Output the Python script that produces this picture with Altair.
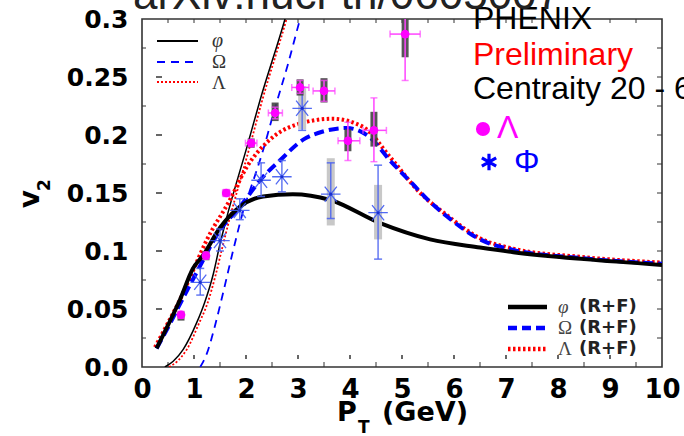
import altair as alt
import pandas as pd

# ---------------- data ----------------
# thin curves (phi, Omega, Lambda)
phi_thin_pt = [0.44, 0.6, 0.79, 1.05, 1.2, 1.37, 1.5, 1.63, 2.02, 2.27, 2.75, 2.85]
phi_thin_v2 = [0.0, 0.005, 0.015, 0.038, 0.055, 0.08, 0.106, 0.129, 0.19, 0.23, 0.30, 0.316]
lam_thin_pt = [0.52, 0.68, 0.86, 1.1, 1.26, 1.42, 1.55, 1.68, 2.06, 2.3, 2.78, 2.88]
lam_thin_v2 = [0.0, 0.005, 0.015, 0.038, 0.055, 0.08, 0.104, 0.127, 0.188, 0.228, 0.30, 0.316]
omg_thin_pt = [1.12, 1.25, 1.4, 1.56, 1.75, 1.95, 2.15, 2.33, 2.53, 2.8, 3.04, 3.14]
omg_thin_v2 = [0.0, 0.012, 0.035, 0.064, 0.1, 0.135, 0.162, 0.187, 0.219, 0.26, 0.30, 0.316]

# thick curves (R+F)
phi_rf_pt = [0.28, 0.5, 0.73, 0.98, 1.17, 1.5, 1.88, 2.33, 2.9, 3.62, 4.58, 5.54, 6.5, 7.14, 8.5, 10.0]
phi_rf_v2 = [0.016, 0.036, 0.058, 0.085, 0.096, 0.12, 0.138, 0.147, 0.149, 0.144, 0.124, 0.11, 0.103, 0.099, 0.093, 0.088]
omg_rf_pt = [0.28, 0.5, 0.75, 1.08, 1.5, 1.88, 2.33, 2.65, 3.1, 3.48, 3.94, 4.38, 4.77, 5.2, 5.5, 5.86, 6.5, 7.14, 8.42, 10.0]
omg_rf_v2 = [0.016, 0.034, 0.056, 0.084, 0.118, 0.138, 0.164, 0.178, 0.196, 0.203, 0.206, 0.198, 0.178, 0.158, 0.144, 0.13, 0.11, 0.101, 0.094, 0.089]
lam_rf_pt = [0.25, 0.5, 0.73, 1.0, 1.24, 1.69, 2.01, 2.46, 2.97, 3.67, 4.25, 4.77, 5.35, 5.86, 6.5, 7.14, 8.42, 10.0]
lam_rf_v2 = [0.017, 0.038, 0.058, 0.085, 0.109, 0.144, 0.172, 0.196, 0.209, 0.214, 0.207, 0.181, 0.15, 0.131, 0.111, 0.102, 0.095, 0.09]

# Lambda data (PHENIX preliminary)
lam_pt = [0.75, 1.23, 1.62, 2.10, 2.56, 3.04, 3.50, 3.96, 4.46, 5.06]
lam_v2 = [0.045, 0.096, 0.150, 0.193, 0.219, 0.241, 0.238, 0.195, 0.204, 0.287]
lam_elo = [0.042, 0.093, 0.147, 0.190, 0.214, 0.236, 0.229, 0.178, 0.177, 0.247]
lam_ehi = [0.048, 0.099, 0.153, 0.196, 0.224, 0.247, 0.247, 0.211, 0.232, 0.330]
lam_slo = [0.040, 0.092, 0.147, 0.189, 0.212, 0.234, 0.228, 0.186, 0.190, 0.267]
lam_shi = [0.048, 0.100, 0.153, 0.197, 0.228, 0.248, 0.249, 0.205, 0.220, 0.310]
lam_xlo = [0.75, 1.23, 1.55, 1.99, 2.43, 2.88, 3.29, 3.77, 4.25, 4.77]
lam_xhi = [0.75, 1.23, 1.69, 2.21, 2.70, 3.21, 3.71, 4.19, 4.70, 5.35]

# phi data
phi_pt = [1.12, 1.50, 1.88, 2.29, 2.69, 3.08, 3.63, 4.54]
phi_v2 = [0.073, 0.109, 0.135, 0.161, 0.164, 0.223, 0.149, 0.133]
phi_elo = [0.062, 0.100, 0.127, 0.147, 0.151, 0.204, 0.128, 0.093]
phi_ehi = [0.085, 0.119, 0.145, 0.176, 0.178, 0.241, 0.176, 0.174]
phi_sys_pt = [3.08, 3.63, 4.54]
phi_slo = [0.205, 0.122, 0.110]
phi_shi = [0.240, 0.180, 0.157]

# axes
x_ticks = [0, 1, 2, 3, 4, 5, 6, 7, 8, 9, 10]
x_half = [0.5, 1.5, 2.5, 3.5, 4.5, 5.5, 6.5, 7.5, 8.5, 9.5]
x_all_half = [0.5, 1, 1.5, 2, 2.5, 3, 3.5, 4, 4.5, 5, 5.5, 6, 6.5, 7, 7.5, 8, 8.5, 9, 9.5]
y_ticks = [0.0, 0.05, 0.1, 0.15, 0.2, 0.25, 0.3]
y_major_inner = [0.05, 0.1, 0.15, 0.2, 0.25]
y_odd = [0.025, 0.075, 0.125, 0.175, 0.225, 0.275]
y_all = [0.025, 0.05, 0.075, 0.1, 0.125, 0.15, 0.175, 0.2, 0.225, 0.25, 0.275]

# ---------------- chart ----------------
W, H = 520, 348
xs = alt.Scale(domain=[0, 10], nice=False, zero=False)
ys = alt.Scale(domain=[0, 0.3], nice=False, zero=False)
xaxis = alt.Axis(values=x_ticks, ticks=False, domain=False, grid=False, title=None,
                 labelFont="DejaVu Sans", labelFontWeight="bold", labelFontSize=26,
                 labelColor="black", labelPadding=9, labelFlush=False, labelOverlap=False)
yaxis = alt.Axis(values=y_ticks, ticks=False, domain=False, grid=False, title=None,
                 labelFont="DejaVu Sans", labelFontWeight="bold", labelFontSize=25,
                 labelColor="black", labelPadding=14, labelFlush=False, labelOverlap=False,
                 labelExpr="datum.value == 0 ? '0.0' : format(datum.value, '.2~f')")


def X(f):
    return alt.X(f"{f}:Q", scale=xs, axis=xaxis)


def Y(f):
    return alt.Y(f"{f}:Q", scale=ys, axis=yaxis)


def curve(pt, v2, color, width, dash=None):
    df = pd.DataFrame({"pt": pt, "v2": v2})
    kw = dict(color=color, strokeWidth=width, clip=True, interpolate="monotone")
    if dash:
        kw["strokeDash"] = dash
    return alt.Chart(df).mark_line(**kw).encode(x=X("pt"), y=Y("v2"))


one = pd.DataFrame({"a": [0]})


def txt(s, x, y, size, color="black", font="Liberation Sans", weight="normal",
        style="normal", align="left", baseline="middle", angle=0):
    kw = dict(text=s, fontSize=size, color=color, font=font, fontWeight=weight,
              fontStyle=style, align=align, baseline=baseline)
    if angle:
        kw["angle"] = angle
    return alt.Chart(one).mark_text(**kw).encode(x=alt.value(x), y=alt.value(y))


def seg(x1, x2, y, color, width, dash=None):
    kw = dict(color=color, strokeWidth=width)
    if dash:
        kw["strokeDash"] = dash
    return alt.Chart(one).mark_rule(**kw).encode(x=alt.value(x1), x2=alt.value(x2), y=alt.value(y))


layers = []

# frame ticks
tc = "#333333"
layers.append(alt.Chart(pd.DataFrame({"v": y_odd})).mark_rule(color=tc, strokeWidth=1)
              .encode(y=Y("v"), x=alt.value(0), x2=alt.value(4)))
layers.append(alt.Chart(pd.DataFrame({"v": y_major_inner})).mark_rule(color=tc, strokeWidth=1.5)
              .encode(y=Y("v"), x=alt.value(14), x2=alt.value(20)))
layers.append(alt.Chart(pd.DataFrame({"v": y_all})).mark_rule(color=tc, strokeWidth=1)
              .encode(y=Y("v"), x=alt.value(W - 5), x2=alt.value(W)))
layers.append(alt.Chart(pd.DataFrame({"v": x_all_half})).mark_rule(color=tc, strokeWidth=1)
              .encode(x=X("v"), y=alt.value(0), y2=alt.value(4)))
layers.append(alt.Chart(pd.DataFrame({"v": x_half})).mark_rule(color=tc, strokeWidth=1)
              .encode(x=X("v"), y=alt.value(H - 5), y2=alt.value(H)))
layers.append(alt.Chart(pd.DataFrame({"v": x_ticks[1:-1]})).mark_rule(color=tc, strokeWidth=1.5)
              .encode(x=X("v"), y=alt.value(H - 12), y2=alt.value(H - 8)))

# thin curves
layers.append(curve(lam_thin_pt, lam_thin_v2, "#ff0000", 1.8, [2, 2]))
layers.append(curve(phi_thin_pt, phi_thin_v2, "#000000", 1.5))
layers.append(curve(omg_thin_pt, omg_thin_v2, "#0000ff", 1.8, [8, 6]))
# thick curves
layers.append(curve(lam_rf_pt, lam_rf_v2, "#ff0000", 4, [2.5, 2.5]))
layers.append(curve(omg_rf_pt, omg_rf_v2, "#0000ff", 4, [10, 5]))
layers.append(curve(phi_rf_pt, phi_rf_v2, "#000000", 4))

# phi data
phi_df = pd.DataFrame({"pt": phi_pt, "v2": phi_v2, "lo": phi_elo, "hi": phi_ehi})
phs = pd.DataFrame({"pt": phi_sys_pt, "lo": phi_slo, "hi": phi_shi})
bc = "#4a62f0"
layers.append(alt.Chart(phs).mark_rule(color="#c8c8c8", strokeWidth=8, clip=True)
              .encode(x=X("pt"), y=Y("lo"), y2=alt.Y2("hi")))
layers.append(alt.Chart(phi_df).mark_rule(color=bc, strokeWidth=1.5, opacity=0.85, clip=True)
              .encode(x=X("pt"), y=Y("lo"), y2=alt.Y2("hi")))
for f in ["lo", "hi"]:
    layers.append(alt.Chart(phi_df).mark_tick(color=bc, thickness=1.5, size=8, orient="horizontal", opacity=0.85)
                  .encode(x=X("pt"), y=Y(f)))
star = "M-1,0L1,0M-0.62,-0.78L0.62,0.78M-0.62,0.78L0.62,-0.78"
layers.append(alt.Chart(phi_df).mark_point(shape=star, filled=False, color="#3f5af2", strokeWidth=1.3,
                                           size=380, opacity=0.9)
              .encode(x=X("pt"), y=Y("v2")))
layers.append(alt.Chart(phi_df).mark_point(shape="circle", filled=True, color="#1a2fd0", size=10, opacity=1)
              .encode(x=X("pt"), y=Y("v2")))

# Lambda data
lam_df = pd.DataFrame({"pt": lam_pt, "v2": lam_v2, "lo": lam_elo, "hi": lam_ehi,
                       "slo": lam_slo, "shi": lam_shi, "xlo": lam_xlo, "xhi": lam_xhi})
lam_h = lam_df[lam_df["xhi"] > lam_df["xlo"]]
mc = "#ff44ff"
layers.append(alt.Chart(lam_df).mark_rule(color="#444444", strokeWidth=7, opacity=0.9, clip=True)
              .encode(x=X("pt"), y=Y("slo"), y2=alt.Y2("shi")))
layers.append(alt.Chart(lam_df).mark_rule(color=mc, strokeWidth=1.5, clip=True)
              .encode(x=X("pt"), y=Y("lo"), y2=alt.Y2("hi")))
layers.append(alt.Chart(lam_h).mark_rule(color=mc, strokeWidth=1.5, clip=True)
              .encode(x=X("xlo"), x2=alt.X2("xhi"), y=Y("v2")))
layers.append(alt.Chart(lam_df[lam_df["hi"] < 0.3]).mark_tick(color=mc, thickness=1.5, size=7, orient="horizontal")
              .encode(x=X("pt"), y=Y("hi")))
layers.append(alt.Chart(lam_df).mark_tick(color=mc, thickness=1.5, size=7, orient="horizontal")
              .encode(x=X("pt"), y=Y("lo")))
for f in ["xlo", "xhi"]:
    layers.append(alt.Chart(lam_h).mark_tick(color=mc, thickness=1.5, size=7, orient="vertical")
                  .encode(x=X(f), y=Y("v2")))
layers.append(alt.Chart(lam_df).mark_point(shape="circle", filled=True, color="#ff00ff", size=75, opacity=1)
              .encode(x=X("pt"), y=Y("v2")))

# top-left legend (thin curves)
layers.append(seg(15, 56, 22, "#000000", 1.8))
layers.append(seg(15, 56, 43, "#0000ff", 2, [8, 6]))
layers.append(seg(15, 56, 63, "#ff0000", 2, [2, 2]))
layers.append(txt("φ", 70, 22, 20, "#333333", "Liberation Serif", style="italic"))
layers.append(txt("Ω", 70, 43, 19, "#333333", "Liberation Serif"))
layers.append(txt("Λ", 70, 64, 19, "#333333", "Liberation Serif"))

# bottom-right legend (thick curves)
layers.append(seg(366, 405, 288, "#000000", 4.5))
layers.append(seg(366, 405, 309, "#0000ff", 4.5, [9, 5]))
layers.append(seg(366, 405, 330, "#ff0000", 4.5, [2.5, 2.5]))
for yy, g, st in [(288, "φ", "italic"), (309, "Ω", "normal"), (330, "Λ", "normal")]:
    layers.append(txt(g, 416, yy, 19, "#444444", "Liberation Serif", style=st))
    layers.append(txt("(R+F)", 437, yy, 18, "#222222", "DejaVu Sans", weight="bold"))

# PHENIX annotation block
layers.append(txt("PHENIX", 331, 0, 32))
layers.append(txt("Preliminary", 331, 36, 32, "#ff0000"))
layers.append(txt("Centraity 20 - 60%", 331, 70, 32))
layers.append(alt.Chart(one).mark_point(shape="circle", filled=True, color="#ff00ff", size=200, opacity=1)
              .encode(x=alt.value(341), y=alt.value(110)))
layers.append(txt("Λ", 355, 109, 32, "#ff00ff"))
six = "M0,-1L0,1M-0.87,-0.5L0.87,0.5M-0.87,0.5L0.87,-0.5"
layers.append(alt.Chart(one).mark_point(shape=six, filled=False, color="#0000ff", strokeWidth=3.2, size=270,
                                        opacity=1)
              .encode(x=alt.value(347), y=alt.value(143)))
layers.append(txt("Φ", 372, 143, 32, "#0000ff"))

# top cropped header
layers.append(txt("arXiv:nucl-th/0605007", -9, -10, 44, "#222222", baseline="alphabetic"))

# axis titles
layers.append(txt("v", -111, 180, 28, "black", "DejaVu Sans", weight="bold", align="center", angle=270))
layers.append(txt("2", -97, 166, 17, "black", "DejaVu Sans", weight="bold", align="center", angle=270))
layers.append(txt("P", 195, 394, 27, "black", "DejaVu Sans", weight="bold"))
layers.append(txt("T", 216, 409, 17, "black", "DejaVu Sans", weight="bold"))
layers.append(txt("(GeV)", 240, 394, 27, "black", "DejaVu Sans", weight="bold"))

chart = alt.layer(*layers).properties(
    width=W, height=H,
    autosize=alt.AutoSizeParams(type="none"),
    padding={"left": 142, "top": 19, "right": 22, "bottom": 69},
    background="white",
).configure_view(stroke="#333333", strokeWidth=1.6)

chart.save("out.html", embed_options={"renderer": "svg", "actions": False})
